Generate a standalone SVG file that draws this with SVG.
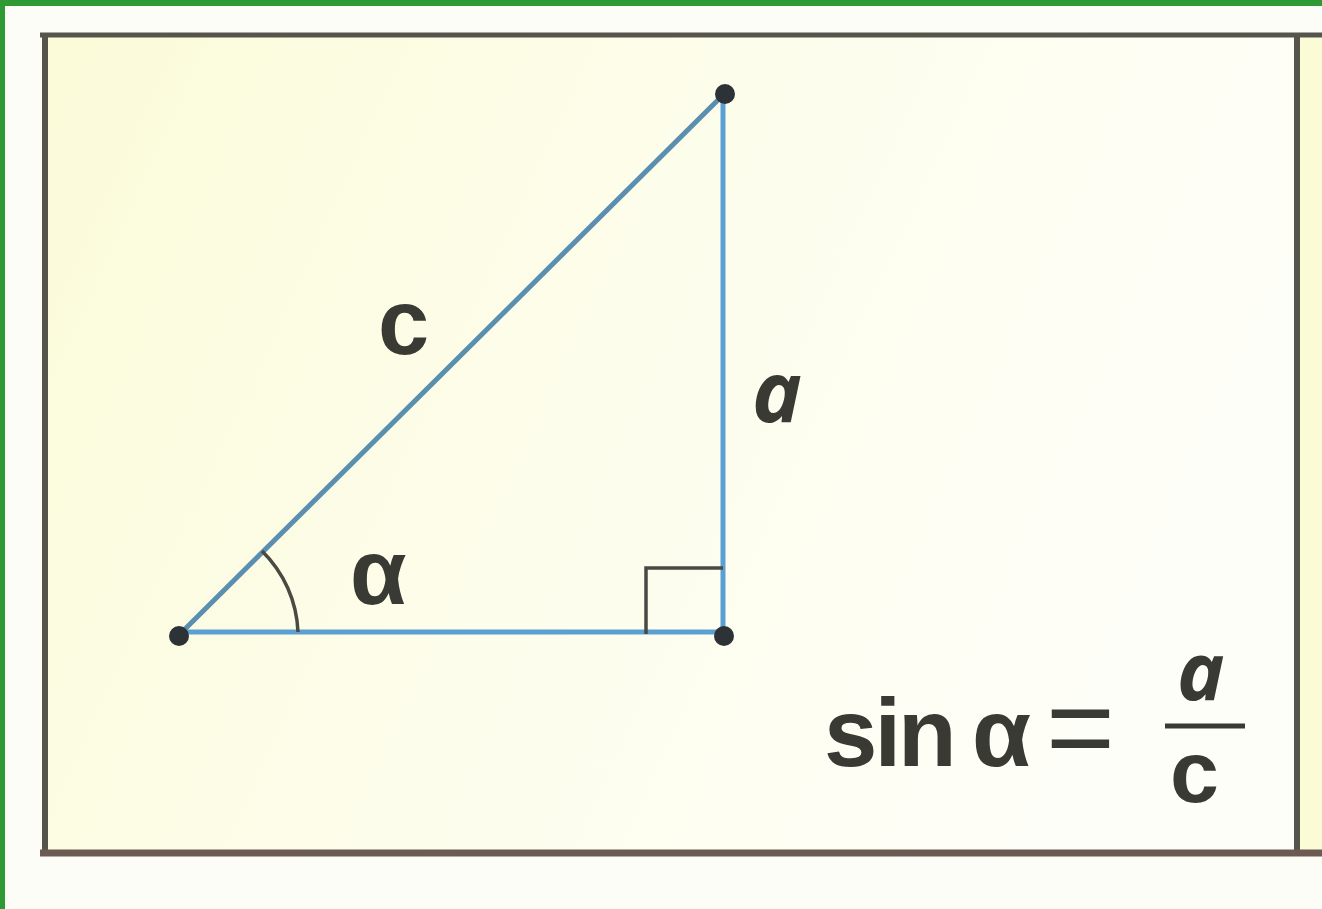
<svg xmlns="http://www.w3.org/2000/svg" width="1322" height="909" viewBox="0 0 1322 909">
<defs>
<linearGradient id="bg" x1="0" y1="0" x2="1" y2="0.3">
<stop offset="0" stop-color="#fbfbd9"/>
<stop offset="0.5" stop-color="#fdfdeb"/>
<stop offset="1" stop-color="#fefef8"/>
</linearGradient>
<style>
.edge{stroke:#5b9fd3;stroke-width:5;fill:none;stroke-linecap:round}
.hyp{stroke:#5a8fb0;stroke-width:5;fill:none}
.mark{stroke:#4a4a44;stroke-width:3.5;fill:none}
.dot{fill:#2c3236}
.lbl{font-family:"Liberation Sans",Arial,sans-serif;fill:#3a3a34}
.it{font-family:"Open Sans","Noto Sans",sans-serif;font-style:italic;font-weight:700;fill:#3a3a34}
</style>
</defs>
<rect width="1322" height="909" fill="#fdfdf7"/>
<rect x="1298" y="38" width="24" height="815" fill="#fbfbd6"/>
<rect x="46" y="37" width="1250" height="815" fill="url(#bg)"/>
<g id="frame">
<line x1="40" y1="35" x2="1322" y2="35" stroke="#55554c" stroke-width="5"/>
<line x1="45" y1="33" x2="45" y2="855" stroke="#55554c" stroke-width="6"/>
<line x1="1297" y1="35" x2="1297" y2="855" stroke="#55554c" stroke-width="6"/>
<line x1="40" y1="853" x2="1322" y2="853" stroke="#6b5b52" stroke-width="7"/>
</g>
<g id="connectors">
<line class="hyp" x1="178" y1="636" x2="724" y2="94"/>
<line class="edge" x1="178" y1="632" x2="724" y2="632"/>
<line class="edge" x1="723" y1="94" x2="723" y2="636"/>
<polyline class="mark" points="646,634 646,568 723,568"/>
<path class="mark" d="M262,551 A120,120 0 0 1 298,632"/>
</g>
<g id="vertex-A"><circle class="dot" cx="179" cy="636" r="10"/></g>
<g id="vertex-B"><circle class="dot" cx="725" cy="94" r="10"/></g>
<g id="vertex-C"><circle class="dot" cx="724" cy="636" r="10"/></g>
<g id="labels">
<text class="lbl" x="378" y="354" font-size="92" font-weight="700">c</text>
<text class="it" x="752" y="422" font-size="84">a</text>
<text class="lbl" x="350" y="604" font-size="92" font-weight="700">α</text>
<text class="lbl" x="824" y="766" font-size="96" font-weight="700" letter-spacing="-3">sin</text>
<text class="lbl" x="972" y="766" font-size="96" font-weight="700">α</text>
<text class="lbl" x="1046" y="768" font-size="118">=</text>
<text class="it" x="1177" y="700" font-size="80">a</text>
<line x1="1165" y1="726" x2="1245" y2="726" stroke="#3a3a34" stroke-width="5"/>
<text class="lbl" x="1170" y="802" font-size="88" font-weight="700">c</text>
</g>
<rect x="0" y="0" width="1322" height="6" fill="#2f9a33"/>
<rect x="0" y="0" width="5" height="909" fill="#2f9a33"/>
</svg>
